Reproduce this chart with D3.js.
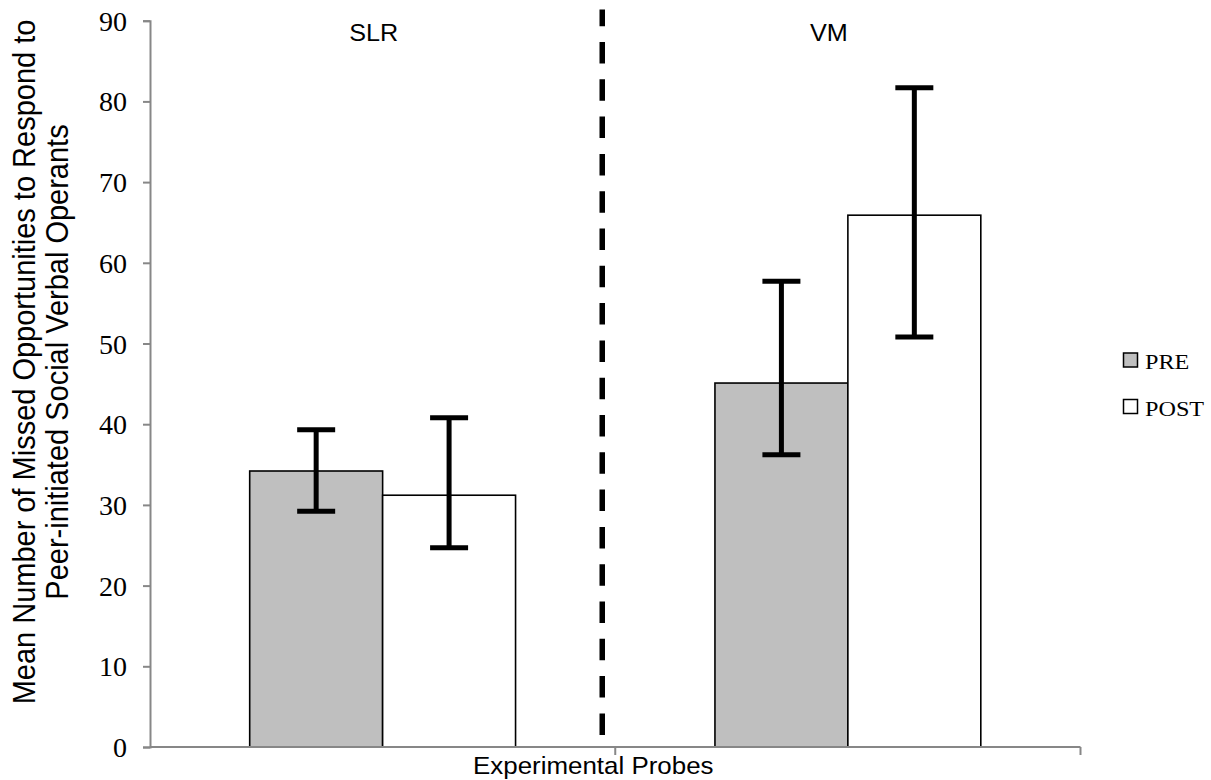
<!DOCTYPE html>
<html>
<head>
<meta charset="utf-8">
<script src="https://cdn.jsdelivr.net/npm/d3@7/dist/d3.min.js"></script>
<style>
  html, body { margin: 0; padding: 0; background: #fff; }
  svg { display: block; }
</style>
</head>
<body>
<svg id="chart" width="1211" height="780"></svg>
<script>
// Condition groups and measurement phases
const categories = ["SLR", "VM"];
const phases = ["PRE", "POST"];

// Mean missed opportunities per group, by phase
const preMeans  = [34.2, 45.1];
const postMeans = [31.2, 65.9];

// Error bar extents (lower / upper) per group, by phase
const preLower  = [29.2, 36.2];
const preUpper  = [39.3, 57.7];
const postLower = [24.7, 50.8];
const postUpper = [40.8, 81.7];

// Value axis ticks
const yTicks = [0, 10, 20, 30, 40, 50, 60, 70, 80, 90];

const yTitleLines = [
  "Mean Number of Missed Opportunities to Respond to",
  "Peer-initiated Social Verbal Operants"
];
const xTitle = "Experimental Probes";

const phaseFill = { PRE: "#bfbfbf", POST: "#ffffff" };

const rows = [];
categories.forEach((c, i) => {
  rows.push({ cat: c, phase: "PRE",  mean: preMeans[i],  lo: preLower[i],  hi: preUpper[i] });
  rows.push({ cat: c, phase: "POST", mean: postMeans[i], lo: postLower[i], hi: postUpper[i] });
});

const svg = d3.select("#chart");
const plot = { left: 150, right: 1080.5, top: 20.7, bottom: 747 };

const y = d3.scaleLinear().domain([0, 90]).range([plot.bottom, plot.top]);
const x0 = d3.scaleBand().domain(categories).range([plot.left, plot.right]).padding(0);
const x1 = d3.scaleBand().domain(phases).range([0, x0.bandwidth()])
  .paddingInner(0).paddingOuter(0.75);

const axisGrey = "#878787";

// Bars
const g = svg.append("g");
g.selectAll("rect.bar").data(rows).join("rect")
  .attr("class", "bar")
  .attr("x", d => x0(d.cat) + x1(d.phase))
  .attr("y", d => y(d.mean))
  .attr("width", x1.bandwidth())
  .attr("height", d => y(0) - y(d.mean))
  .attr("fill", d => phaseFill[d.phase])
  .attr("stroke", "#000")
  .attr("stroke-width", 1.6);

// Y axis
const yAxis = d3.axisLeft(y).tickValues(yTicks).tickSize(7).tickPadding(16);
const ya = svg.append("g").attr("transform", `translate(${plot.left},0)`).call(yAxis);
ya.select(".domain").attr("stroke", axisGrey).attr("stroke-width", 2);
ya.selectAll(".tick line").attr("stroke", axisGrey).attr("stroke-width", 2);
ya.selectAll(".tick text")
  .attr("font-family", "'Liberation Serif', 'DejaVu Serif', serif")
  .attr("font-size", 28)
  .attr("fill", "#000")
  .attr("dy", "0.34em");

// X axis: baseline with ticks at group boundaries
const xa = svg.append("g");
xa.append("line")
  .attr("x1", plot.left).attr("x2", plot.right)
  .attr("y1", y(0)).attr("y2", y(0))
  .attr("stroke", axisGrey).attr("stroke-width", 2);
const bounds = categories.map(c => x0(c) + x0.bandwidth());
xa.selectAll("line.xt").data(bounds).join("line")
  .attr("class", "xt")
  .attr("x1", d => d).attr("x2", d => d)
  .attr("y1", y(0)).attr("y2", y(0) + 8)
  .attr("stroke", axisGrey).attr("stroke-width", 2);

// Error bars
const capW = 38;
const eb = svg.append("g").attr("stroke", "#000").attr("stroke-width", 5).attr("fill", "none");
rows.forEach(d => {
  const cx = x0(d.cat) + x1(d.phase) + x1.bandwidth() / 2;
  eb.append("line").attr("x1", cx).attr("x2", cx).attr("y1", y(d.hi)).attr("y2", y(d.lo));
  eb.append("line").attr("x1", cx - capW / 2).attr("x2", cx + capW / 2).attr("y1", y(d.hi)).attr("y2", y(d.hi));
  eb.append("line").attr("x1", cx - capW / 2).attr("x2", cx + capW / 2).attr("y1", y(d.lo)).attr("y2", y(d.lo));
});

// Dashed divider between the two conditions
const divX = x0(categories[1]) - 13;
svg.append("line")
  .attr("x1", divX).attr("x2", divX)
  .attr("y1", y(1.5)).attr("y2", y(91.4))
  .attr("stroke", "#000").attr("stroke-width", 5.5)
  .attr("stroke-dasharray", "21.5 15.8");

// Group labels
const groupLabelShift = { SLR: -9, VM: -19 };
categories.forEach(c => {
  const cx = x0(c) + x0.bandwidth() / 2 + groupLabelShift[c];
  svg.append("text")
    .attr("transform", `translate(${cx},41) scale(1.05,1)`)
    .attr("text-anchor", "middle")
    .attr("font-family", "'Liberation Sans', Arial, sans-serif")
    .attr("font-size", 24)
    .attr("fill", "#000")
    .text(c);
});

// X axis title
svg.append("text")
  .attr("transform", `translate(${(plot.left + plot.right) / 2 - 22},774) scale(1.08,1)`)
  .attr("text-anchor", "middle")
  .attr("font-family", "'Liberation Sans', Arial, sans-serif")
  .attr("font-size", 24)
  .attr("fill", "#000")
  .text(xTitle);

// Y axis title (two rotated lines)
const yTitleBase = [35, 68];
yTitleLines.forEach((t, i) => {
  svg.append("text")
    .attr("transform", `translate(${yTitleBase[i]},362) scale(1.07,1) rotate(-90)`)
    .attr("text-anchor", "middle")
    .attr("font-family", "'Liberation Sans', Arial, sans-serif")
    .attr("font-size", 29)
    .attr("fill", "#000")
    .text(t);
});

// Legend
const legend = svg.append("g");
phases.forEach((p, i) => {
  const ly = 353 + i * 46.5;
  legend.append("rect")
    .attr("x", 1123.5).attr("y", ly)
    .attr("width", 14).attr("height", 14)
    .attr("fill", phaseFill[p])
    .attr("stroke", "#000").attr("stroke-width", 1.5);
  legend.append("text")
    .attr("transform", `translate(1145,${ly + 16}) scale(1.1,1)`)
    .attr("font-family", "'Liberation Serif', 'DejaVu Serif', serif")
    .attr("font-size", 22)
    .attr("fill", "#000")
    .text(p);
});
</script>
</body>
</html>
